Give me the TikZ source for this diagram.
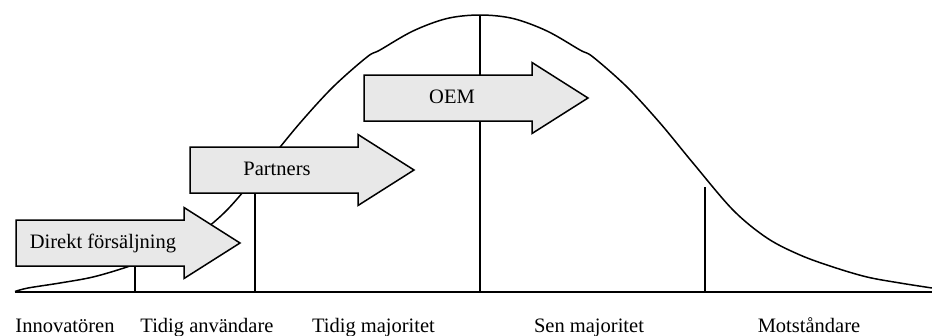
\documentclass[tikz,border=0pt]{standalone}
\usepackage{fontspec}
\setmainfont{Liberation Serif}
\begin{document}
\begin{tikzpicture}[x=1pt,y=-1pt,
  ink/.style={line width=1.5pt,line join=miter},
  arrowfill/.style={ink,fill=arrowgray},
  lbl/.style={font=\fontsize{20.5}{24}\selectfont,inner sep=0pt},
  phase/.style={lbl,anchor=base},
  pics/salesarrow/.style={code={
    \draw[arrowfill] (0,-23) -- (168,-23) -- (168,-35.5) -- (224,0)
      -- (168,35.5) -- (168,23) -- (0,23) -- cycle;
  }}]
\definecolor{arrowgray}{RGB}{232,232,232}
\useasboundingbox (0,0) rectangle (932,335);

% axis
\coordinate (axL) at (15,292);
\coordinate (axR) at (932,292);
\draw[ink] (axL) -- (axR);

% phase dividers
\coordinate (d1b) at (135,292); \coordinate (d1t) at (135,265);
\coordinate (d2b) at (255,292); \coordinate (d2t) at (255,180);
\coordinate (d3b) at (480,292); \coordinate (d3t) at (480,15);
\coordinate (d4b) at (705,292); \coordinate (d4t) at (705,187);
\draw[ink] (d1b) -- (d1t);
\draw[ink] (d2b) -- (d2t);
\draw[ink] (d3b) -- (d3t);
\draw[ink] (d4b) -- (d4t);

% adoption curve
\draw[ink] plot[smooth,tension=0.55] coordinates {
  (15,291.5) (28,288) (60,283) (93,277) (127,267) (160,255) (193,238)
  (227,210) (267,163) (300,123) (333,87) (367,57) (380,50)
  (413,31) (447,18.5) (480,15) (513,18.5) (547,31) (580,50) (593,57)
  (627,87) (660,123) (693,163) (733,210) (767,238) (800,255)
  (833,267) (867,277) (900,283) (932,288)};

% sales channel arrows
\pic at (16,243) {salesarrow};
\node[lbl] (direkt) at (103,243) {Direkt försäljning};
\pic at (190,170) {salesarrow};
\node[lbl] (partners) at (277,169) {Partners};
\pic at (364,98) {salesarrow};
\node[lbl] (oem) at (452,97) {OEM};

% phase labels
\node[phase] (innov) at (65,332) {Innovatören};
\node[phase] (tidanv) at (207,332) {Tidig användare};
\node[phase] (tidmaj) at (373.5,332) {Tidig majoritet};
\node[phase] (senmaj) at (589,332) {Sen majoritet};
\node[phase] (motst) at (809,332) {Motståndare};
\end{tikzpicture}
\end{document}
